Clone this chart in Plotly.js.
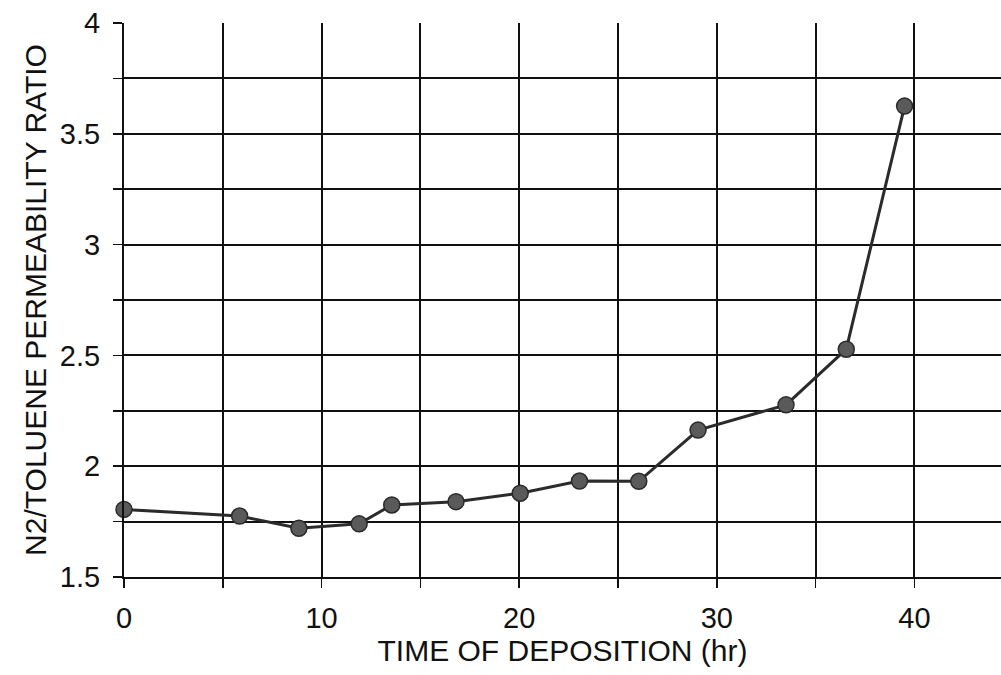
<!DOCTYPE html>
<html>
<head>
<meta charset="utf-8">
<script src="https://cdn.plot.ly/plotly-3.0.1.min.js"></script>
<style>
html,body{margin:0;padding:0;background:#fff;}
#chart{width:1001px;height:675px;}
</style>
</head>
<body>
<div id="chart"></div>
<script>
const depositionHours = [0, 5.85, 8.85, 11.9, 13.55, 16.8, 20.05, 23.05, 26.05, 29.05, 33.5, 36.55, 39.5];
const permeabilityRatio = [1.805, 1.775, 1.72, 1.74, 1.825, 1.84, 1.878, 1.933, 1.932, 2.163, 2.277, 2.528, 3.625];

const xTickVals = [0, 5, 10, 15, 20, 25, 30, 35, 40];
const xTickText = ['0', '', '10', '', '20', '', '30', '', '40'];
const yTickVals = [1.5, 1.75, 2, 2.25, 2.5, 2.75, 3, 3.25, 3.5, 3.75, 4];
const yTickText = ['1.5', '', '2', '', '2.5', '', '3', '', '3.5', '', '4'];

const xTitle = 'TIME OF DEPOSITION (hr)';
const yTitle = 'N2/TOLUENE PERMEABILITY RATIO';

const fontFam = 'Liberation Sans, Arial, sans-serif';

const trace = {
  x: depositionHours,
  y: permeabilityRatio,
  type: 'scatter',
  mode: 'lines+markers',
  cliponaxis: false,
  line: {color: '#2b2b2b', width: 3},
  marker: {size: 16, color: '#5a5a5a', line: {color: '#2b2b2b', width: 1.5}},
  showlegend: false,
  hoverinfo: 'x+y'
};

const layout = {
  width: 1001,
  height: 675,
  margin: {l: 124, r: 0, t: 23, b: 98},
  paper_bgcolor: '#ffffff',
  plot_bgcolor: '#ffffff',
  font: {family: fontFam, color: '#111'},
  showlegend: false,
  xaxis: {
    range: [0, 44.38],
    tickmode: 'array',
    tickvals: xTickVals,
    ticktext: xTickText,
    ticks: 'outside',
    ticklen: 9,
    tickwidth: 1.5,
    tickcolor: '#111',
    ticklabelstandoff: 5,
    tickfont: {size: 29, family: fontFam, color: '#111'},
    showgrid: true,
    gridcolor: '#111',
    gridwidth: 2,
    showline: true,
    linecolor: '#111',
    linewidth: 2,
    zeroline: false,
    title: {text: xTitle, font: {size: 30, family: fontFam, color: '#111'}, standoff: 0}
  },
  yaxis: {
    range: [1.5, 4],
    tickmode: 'array',
    tickvals: yTickVals,
    ticktext: yTickText,
    ticks: 'outside',
    ticklen: 9,
    tickwidth: 1.5,
    tickcolor: '#111',
    ticklabelstandoff: 7,
    tickfont: {size: 29, family: fontFam, color: '#111'},
    showgrid: true,
    gridcolor: '#111',
    gridwidth: 2,
    showline: true,
    linecolor: '#111',
    linewidth: 2,
    zeroline: false,
    title: {text: yTitle, font: {size: 30, family: fontFam, color: '#111'}, standoff: 4}
  }
};

Plotly.newPlot('chart', [trace], layout, {displayModeBar: false, staticPlot: true});
</script>
</body>
</html>
